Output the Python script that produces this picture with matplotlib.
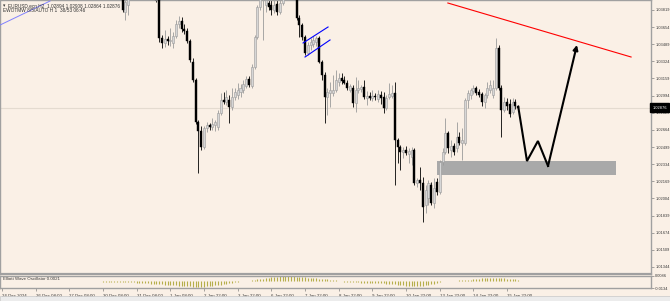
import numpy as np
import matplotlib
matplotlib.use("Agg")
import matplotlib.pyplot as plt
from matplotlib.patches import Rectangle
import matplotlib.transforms as mtransforms

plt.rcParams["font.family"] = ["Liberation Sans", "DejaVu Sans"]

# ---- data (EURUSD H2) ----
first_bar = 43  # bars before this one are above the visible price range

opens = [
    1.03963, 1.03799, 1.03867, None, None, None, None, None, None, None,
    None, None, 1.04059, 1.03915, 1.03549, 1.03501, 1.03539, 1.03520, 1.03501, 1.03568,
    1.03684, 1.03713, 1.03636, 1.03616, 1.03520, 1.03318, 1.03145, 1.02740, 1.02654, 1.02499,
    1.02682, 1.02711, 1.02692, 1.02711, 1.02692, 1.02827, 1.02952, 1.02933, 1.02952, 1.02885,
    1.02981, 1.03000, 1.03029, 1.03048, 1.03087, 1.03154, 1.03087, 1.03270, 1.03559, 1.03848,
    1.03944, 1.03867, 1.03886, 1.03867, 1.03819, 1.03876, 1.03799, 1.03886, None, None,
    None, None, 1.04011, 1.03742, 1.03674, 1.03559, 1.03405, 1.03482, 1.03491, 1.03511,
    1.03549, 1.03318, 1.03193, 1.02981, 1.03019, 1.03019, 1.03048, 1.03125, 1.03164, 1.03145,
    1.03116, 1.03048, 1.03068, 1.02923, 1.03048, 1.03058, 1.03077, 1.02971, 1.02990, 1.02971,
    1.02990, 1.02962, 1.03000, 1.02981, 1.02875, 1.02981, 1.02990, 1.03019, 1.02567, 1.02499,
    1.02451, 1.02470, 1.02432, 1.02403, 1.02470, 1.02153, 1.02182, 1.02153, 1.01941, 1.02008,
    1.02133, 1.01960, 1.02162, 1.02066, 1.02355, 1.02451, 1.02634, 1.02470, 1.02509, 1.02490,
    1.02596, 1.02538, 1.02538, 1.02952, 1.03000, 1.03039, 1.03068, 1.03029, 1.03010, 1.02933,
    1.03000, 1.03048, 1.03000, 1.03068, 1.03453, 1.03068, 1.02856, 1.02933, 1.02913, 1.02836,
    1.02933, 1.02894,
]
highs = [
    1.04059, 1.03934, 1.04011, None, None, None, None, None, None, None,
    None, None, 1.04108, 1.03944, 1.03578, 1.03626, 1.03568, 1.03645, 1.03607, 1.03722,
    1.03761, 1.03751, 1.03684, 1.03645, 1.03539, 1.03356, 1.03164, 1.02759, 1.02702, 1.02702,
    1.02740, 1.02731, 1.02779, 1.02759, 1.02856, 1.03019, 1.03029, 1.03048, 1.03000, 1.03068,
    1.03068, 1.03116, 1.03106, 1.03145, 1.03183, 1.03183, 1.03299, 1.03578, 1.03867, 1.04011,
    1.04108, 1.03963, 1.03963, 1.03944, 1.03915, 1.03915, 1.03934, 1.04011, None, None,
    None, None, 1.04059, 1.03771, 1.03694, 1.03578, 1.03511, 1.03549, 1.03568, 1.03568,
    1.03568, 1.03337, 1.03222, 1.03068, 1.03125, 1.03193, 1.03241, 1.03212, 1.03212, 1.03183,
    1.03145, 1.03106, 1.03097, 1.03174, 1.03145, 1.03097, 1.03145, 1.03039, 1.03029, 1.03048,
    1.03019, 1.03048, 1.03039, 1.03029, 1.03000, 1.03116, 1.03097, 1.03125, 1.02586, 1.02519,
    1.02499, 1.02509, 1.02490, 1.02499, 1.02490, 1.02201, 1.02307, 1.02210, 1.02133, 1.02182,
    1.02162, 1.02201, 1.02201, 1.02374, 1.02490, 1.02779, 1.02654, 1.02567, 1.02538, 1.02740,
    1.02644, 1.02682, 1.02971, 1.03048, 1.03068, 1.03097, 1.03087, 1.03058, 1.03029, 1.03019,
    1.03125, 1.03145, 1.03145, 1.03549, 1.03482, 1.03097, 1.02981, 1.02971, 1.02962, 1.02971,
    1.02962, 1.02908,
]
lows = [
    1.03799, 1.03722, 1.03771, None, None, None, None, None, None, None,
    None, None, 1.03896, 1.03511, 1.03453, 1.03462, 1.03482, 1.03472, 1.03453, 1.03549,
    1.03645, 1.03607, 1.03588, 1.03501, 1.03318, 1.03125, 1.02721, 1.02249, 1.02470, 1.02480,
    1.02644, 1.02663, 1.02663, 1.02654, 1.02663, 1.02808, 1.02913, 1.02904, 1.02731, 1.02856,
    1.02952, 1.02962, 1.02981, 1.03019, 1.03068, 1.03077, 1.03068, 1.03251, 1.03539, 1.03819,
    1.03530, 1.03799, 1.03819, 1.03771, 1.03790, 1.03771, 1.03780, 1.03867, None, None,
    None, None, 1.03722, 1.03559, 1.03530, 1.03385, 1.03385, 1.03434, 1.03462, 1.03472,
    1.03308, 1.03145, 1.02731, 1.02808, 1.02885, 1.02990, 1.03029, 1.03087, 1.03106, 1.03106,
    1.03048, 1.03029, 1.02885, 1.02836, 1.03019, 1.03029, 1.02962, 1.02904, 1.02952, 1.02942,
    1.02952, 1.02933, 1.02913, 1.02827, 1.02856, 1.02962, 1.02971, 1.02133, 1.02345, 1.02278,
    1.02394, 1.02422, 1.02345, 1.02326, 1.02133, 1.02114, 1.02085, 1.01777, 1.01864, 1.01941,
    1.01941, 1.01912, 1.02037, 1.02047, 1.02326, 1.02432, 1.02442, 1.02403, 1.02422, 1.02451,
    1.02519, 1.02374, 1.02519, 1.02875, 1.02962, 1.03010, 1.03000, 1.02981, 1.02894, 1.02875,
    1.02971, 1.03019, 1.02971, 1.03048, 1.03048, 1.02596, 1.02836, 1.02856, 1.02788, 1.02817,
    1.02865, 1.02864,
]
closes = [
    1.03819, 1.03896, 1.03963, None, None, None, None, None, None, None,
    None, None, 1.03915, 1.03549, 1.03501, 1.03539, 1.03520, 1.03530, 1.03568, 1.03684,
    1.03713, 1.03636, 1.03616, 1.03520, 1.03337, 1.03145, 1.02740, 1.02654, 1.02499, 1.02682,
    1.02711, 1.02692, 1.02721, 1.02740, 1.02827, 1.02952, 1.02933, 1.02981, 1.02885, 1.02981,
    1.03029, 1.03048, 1.03068, 1.03106, 1.03154, 1.03097, 1.03270, 1.03559, 1.03848, 1.03963,
    1.04059, 1.03915, 1.03848, 1.03819, 1.03867, 1.03799, 1.03886, 1.03963, None, None,
    None, None, 1.03742, 1.03674, 1.03559, 1.03405, 1.03482, 1.03511, 1.03530, 1.03549,
    1.03318, 1.03193, 1.02981, 1.03029, 1.03048, 1.03048, 1.03145, 1.03164, 1.03135, 1.03116,
    1.03068, 1.03087, 1.02923, 1.03048, 1.03068, 1.03077, 1.02981, 1.02990, 1.02971, 1.02990,
    1.02981, 1.03010, 1.02971, 1.02875, 1.02971, 1.03010, 1.03019, 1.02567, 1.02499, 1.02451,
    1.02470, 1.02442, 1.02461, 1.02470, 1.02153, 1.02182, 1.02153, 1.01922, 1.02085, 1.02153,
    1.01960, 1.02104, 1.02066, 1.02355, 1.02451, 1.02634, 1.02490, 1.02509, 1.02451, 1.02596,
    1.02538, 1.02567, 1.02952, 1.03019, 1.03048, 1.03068, 1.03019, 1.03000, 1.02933, 1.03000,
    1.03068, 1.03097, 1.03068, 1.03453, 1.03068, 1.02856, 1.02933, 1.02894, 1.02817, 1.02933,
    1.02894, 1.02876,
]

# Elliott Wave Oscillator, one value per bar from bar 0
ewo = [
    0.0002, 0.0003, 0.0002, 0.0002, 0.0001, 0.0002, 0.0003, 0.0002, 0.0001, 0.0002, 0.0002,
    0.0003, 0.0002, 0.0001, 0.0001, 0.0002, 0.0002, 0.0001, 0.0000, -0.0001, -0.0002, -0.0003,
    -0.0005, -0.0006, -0.0007, -0.0008, -0.0008, -0.0009, -0.0010, -0.0010, -0.0011, -0.0012,
    -0.0012, -0.0013, -0.0013, -0.0014, -0.0015, -0.0015, -0.0016, -0.0017, -0.0018, -0.0019,
    -0.0020, -0.0022, -0.0024,
    -0.0027, -0.0030, -0.0033, -0.0036, -0.0039, -0.0042, -0.0045, -0.0048, -0.0052, -0.0055, -0.0058,
    -0.0062, -0.0066, -0.0070, -0.0074, -0.0078, -0.0082, -0.0086, -0.0090, -0.0094, -0.0098, -0.0102,
    -0.0106, -0.0110, -0.0112, -0.0114, -0.0112, -0.0108, -0.0102, -0.0096, -0.0090, -0.0084, -0.0078,
    -0.0070, -0.0062, -0.0054, -0.0046, -0.0038, -0.0030, -0.0022, -0.0014,
    -0.0006, -0.0002, 0.0002, 0.0006,
    0.0014, 0.0022, 0.0030, 0.0038, 0.0046, 0.0054, 0.0062, 0.0070, 0.0076, 0.0080, 0.0084, 0.0086,
    0.0086, 0.0084, 0.0080, 0.0076, 0.0072, 0.0068, 0.0064, 0.0058, 0.0052, 0.0048, 0.0044, 0.0040,
    0.0034, 0.0028, 0.0022, 0.0016, 0.0010,
    0.0004, -0.0004, -0.0010, -0.0016, -0.0020, -0.0024, -0.0028, -0.0030, -0.0032, -0.0034, -0.0036,
    -0.0038, -0.0040, -0.0042, -0.0044, -0.0046, -0.0048, -0.0050,
    -0.0054, -0.0058, -0.0062, -0.0066, -0.0072, -0.0078, -0.0084, -0.0090, -0.0096, -0.0100, -0.0102,
    -0.0100, -0.0096, -0.0090, -0.0084, -0.0076, -0.0068, -0.0058, -0.0048,
    -0.0016, -0.0010, -0.0006, -0.0003, -0.0001, 0.0001, 0.0002, 0.0004, 0.0006, 0.0008, 0.0012,
    0.0018, 0.0024, 0.0030, 0.0036, 0.0042, 0.0048, 0.0052, 0.0055, 0.0055, 0.0053, 0.0050, 0.0046,
    0.0042, 0.0036, 0.0031, 0.0027, 0.0024, 0.0021,
]

time_labels = ["24 Dec 2024", "26 Dec 08:00", "27 Dec 08:00", "30 Dec 08:00", "31 Dec 08:00",
               "1 Jan 08:00", "2 Jan 22:00", "3 Jan 22:00", "6 Jan 22:00", "7 Jan 22:00",
               "8 Jan 22:00", "9 Jan 22:00", "10 Jan 22:00", "13 Jan 22:00", "14 Jan 22:00",
               "15 Jan 22:00"]
bars_per_label = 12

price_ticks = [1.03819, 1.03654, 1.03489, 1.03324, 1.03159, 1.02994, 1.02829, 1.02664,
               1.02499, 1.02334, 1.02169, 1.02004, 1.01839, 1.01674, 1.01509, 1.01344]
last_price = 1.02876

# drawn objects (bar index, price)
channel_top = ([107.3, 116.2], [1.03501, 1.03655])
channel_bot = ([108.0, 116.9], [1.03366, 1.03530])
old_line = ([-0.7, 17.1], [1.03674, 1.03905])
red_line = ([158.9, 224.2], [1.03886, 1.03366])
zone_bars = (155.0, 218.8)
zone_prices = (1.02230, 1.02364)
path_bars = [184, 187.1, 191.0, 194.6, 204.9]
path_prices = [1.02885, 1.02364, 1.02557, 1.02316, 1.03482]

# ---- figure ----
BG = "#faf0e6"
W, H = 670, 301
fig = plt.figure(figsize=(W / 100, H / 100), dpi=100, facecolor=BG)

ax = fig.add_axes([0, 27 / H, 651 / W, 274 / H], facecolor=BG)
ax2 = fig.add_axes([0, 13 / H, 651 / W, 12.5 / H], facecolor=BG)

o = np.array(opens, dtype=float)
h = np.array(highs, dtype=float)
l = np.array(lows, dtype=float)
c = np.array(closes, dtype=float)
x = np.arange(first_bar, first_bar + len(o))
ok = ~np.isnan(o)
bull = ok & (c >= o)
bear = ok & (c < o)

ax.vlines(x[bull], l[bull], h[bull], color="#9a9a9a", lw=0.6, zorder=2)
ax.vlines(x[bear], l[bear], h[bear], color="black", lw=0.6, zorder=2)
ax.bar(x[bull], np.maximum(c[bull] - o[bull], 0.00003), bottom=o[bull], width=0.72,
       color="#d6d6d6", edgecolor="#9a9a9a", linewidth=0.4, zorder=3)
ax.bar(x[bear], np.maximum(o[bear] - c[bear], 0.00003), bottom=c[bear], width=0.72,
       color="black", edgecolor="black", linewidth=0.3, zorder=3)

ax.axhline(last_price, color="#e4dbd0", lw=0.8, zorder=0)

ax.add_patch(Rectangle((zone_bars[0], zone_prices[0]), zone_bars[1] - zone_bars[0],
                       zone_prices[1] - zone_prices[0], facecolor="#a9a9a9",
                       edgecolor="none", zorder=1))

ax.plot(*channel_top, color="#0000ff", lw=0.8, zorder=4)
ax.plot(*channel_bot, color="#0000ff", lw=0.8, zorder=4)
ax.plot(*old_line, color="#8080ff", lw=0.7, zorder=4)
ax.plot(*red_line, color="#ff0000", lw=0.8, zorder=4)

ax.plot(path_bars[:-1], path_prices[:-1], color="black", lw=1.5, zorder=5,
        solid_joinstyle="miter")
ax.annotate("", xy=(path_bars[-1], path_prices[-1]), xytext=(path_bars[-2], path_prices[-2]),
            arrowprops=dict(arrowstyle="-|>", color="black", lw=1.5, mutation_scale=7,
                            shrinkA=0, shrinkB=0), zorder=5)

ax.set_xlim(-0.713, 231.3)
ax.set_ylim(1.01276, 1.03915)
ax.yaxis.tick_right()
ax.set_yticks(price_ticks)
ax.set_yticklabels([f"{p:.5f}" for p in price_ticks])
ax.tick_params(axis="y", direction="out", length=2.5, width=0.5, color="#808080",
               labelcolor="#3a3a3a", labelsize=2.9, pad=0.8)
ax.set_xticks([])
for side, sp in ax.spines.items():
    sp.set_color("#a0a0a0")
    sp.set_linewidth(1.0)
ax.spines["bottom"].set_linewidth(1.6)

trans = mtransforms.blended_transform_factory(ax.transAxes, ax.transData)
ax.text(1.002, last_price, "1.02876", transform=trans, ha="left", va="center",
        color="white", fontsize=2.9, clip_on=False,
        bbox=dict(facecolor="black", edgecolor="black", pad=0.6, boxstyle="square"))

# oscillator panel
ax2.vlines(np.arange(len(ewo)), 0, ewo, color="#b5ae4a", lw=0.8)
ax2.set_xlim(-0.713, 231.3)
ax2.set_ylim(-0.0134, 0.0095)
ax2.yaxis.tick_right()
ax2.set_yticks([0.0086, -0.0134])
ax2.set_yticklabels(["0.0086", "-0.0134"])
ax2.tick_params(axis="y", direction="out", length=2, width=0.5, color="#808080",
                labelcolor="#3a3a3a", labelsize=2.9, pad=0.8)
ax2.set_xticks(np.arange(len(time_labels)) * bars_per_label)
ax2.set_xticklabels(time_labels)
ax2.tick_params(axis="x", direction="out", length=2.5, width=0.5, color="#808080",
                labelcolor="#3a3a3a", labelsize=3.2, pad=1.5)
for lab in ax2.get_xticklabels():
    lab.set_horizontalalignment("left")
for sp in ax2.spines.values():
    sp.set_color("#a0a0a0")
    sp.set_linewidth(1.0)
ax2.text(0.004, 0.75, "Elliott Wave Oscillator 0.0021", transform=ax2.transAxes,
         fontsize=3.2, color="#3a3a3a", va="center", ha="left")

# header
fig.text(3 / W, 1 - 5.5 / H, "\u25be", fontsize=3.4, color="#333333", va="center")
fig.text(8 / W, 1 - 5.5 / H, "EURUSD.ecn,H2  1.02894 1.02908 1.02864 1.02876",
         fontsize=3.4, color="#333333", va="center")
fig.text(3 / W, 1 - 11 / H, "EWOTMW 8/5/AUTO H 1  38/53 06:46",
         fontsize=3.4, color="#333333", va="center")

# bottom tab strip
fig.patches.append(Rectangle((0, 0), 1, 5 / H, transform=fig.transFigure,
                             facecolor="#ececec", edgecolor="#c8c8c8", lw=0.5))

fig.savefig("out.png", dpi=100, facecolor=BG)
